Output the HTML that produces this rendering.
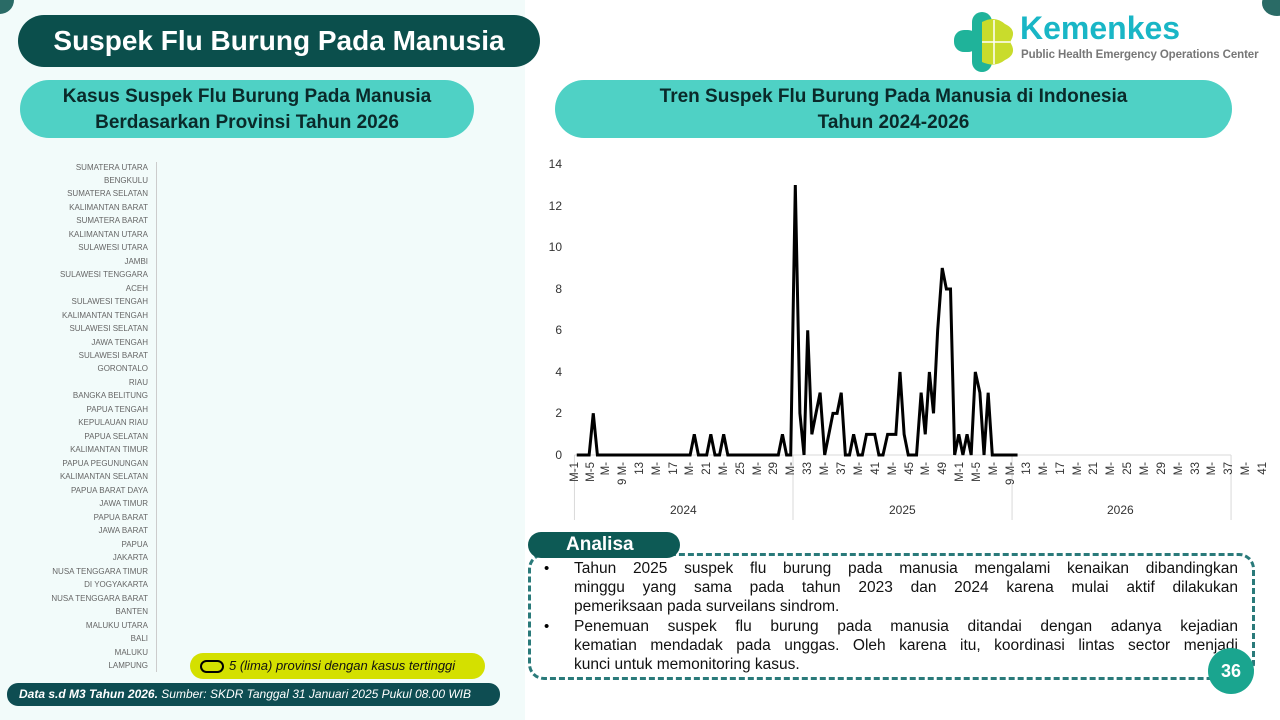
<!DOCTYPE html>
<html><head><meta charset="utf-8"><style>
*{margin:0;padding:0;box-sizing:border-box}
body{width:1280px;height:720px;position:relative;overflow:hidden;background:#fff;font-family:"Liberation Sans",sans-serif}
.a{position:absolute}
.pl{position:absolute;right:1132px;font-size:8px;color:#666;white-space:nowrap;line-height:10px}
.yl{position:absolute;right:718px;font-size:12px;color:#333;line-height:12px}
.xl{position:absolute;top:462px;font-size:11.5px;color:#333;white-space:nowrap;transform-origin:0 0;transform:rotate(-90deg) translateX(-100%);line-height:12px}
.ln{position:absolute;left:574px;width:664px;font-size:15.5px;color:#111;line-height:19.3px;white-space:nowrap;text-align:justify;text-align-last:justify}
.ln.e{text-align-last:left}
.b{position:absolute;left:544px;font-size:15px;line-height:19.3px}
</style></head><body>
<div class="a" style="left:0;top:0;width:525px;height:720px;background:#f2fbfa"></div>
<div class="a" style="left:-14px;top:-14px;width:28px;height:28px;border-radius:50%;background:#2a6b66"></div>
<div class="a" style="left:1262px;top:-10px;width:30px;height:26px;border-radius:50%;background:#2a6b66"></div>

<div class="a" style="left:18px;top:15px;width:522px;height:52px;border-radius:26px;background:#0b4f4c;color:#fff;font-weight:bold;font-size:28px;line-height:52px;text-align:center">Suspek Flu Burung Pada Manusia</div>
<div class="a" style="left:20px;top:80px;width:454px;height:58px;border-radius:29px;background:#4fd1c5;color:#0a2a2a;font-weight:bold;font-size:19px;line-height:26px;text-align:center;padding-top:4px">Kasus Suspek Flu Burung Pada Manusia<br>Berdasarkan Provinsi Tahun 2026</div>
<div class="a" style="left:555px;top:80px;width:677px;height:58px;border-radius:29px;background:#4fd1c5;color:#0a2a2a;font-weight:bold;font-size:19px;line-height:26px;text-align:center;padding-top:4px">Tren Suspek Flu Burung Pada Manusia di Indonesia<br>Tahun 2024-2026</div>

<!-- logo -->
<svg class="a" style="left:950px;top:10px" width="70" height="64" viewBox="0 0 70 64">
<rect x="4" y="20" width="24" height="22" rx="10" fill="#1fb39a"/>
<rect x="22" y="2" width="20" height="60" rx="10" fill="#1fb39a"/>
<path d="M32 12 Q45 5 55 14 Q68 20 60 32 Q68 44 55 50 Q45 58 32 52 Z" fill="#c9dc2c"/>
<line x1="32" y1="32" x2="60" y2="32" stroke="#fff" stroke-width="1.5"/><line x1="44" y1="10" x2="44" y2="54" stroke="#fff" stroke-width="1.5"/>
</svg>
<div class="a" style="left:1020px;top:8px;font-size:32px;font-weight:bold;color:#19b6c6;line-height:40px">Kemenkes</div>
<div class="a" style="left:1021px;top:47px;font-size:11.5px;font-weight:bold;color:#777;line-height:16px;white-space:nowrap;letter-spacing:-0.1px">Public Health Emergency Operations Center</div>

<!-- provinces -->
<div class="a" style="left:156px;top:162px;width:1px;height:510px;background:#ccc"></div>
<div class="pl" style="top:163px">SUMATERA UTARA</div>
<div class="pl" style="top:176px">BENGKULU</div>
<div class="pl" style="top:189px">SUMATERA SELATAN</div>
<div class="pl" style="top:203px">KALIMANTAN BARAT</div>
<div class="pl" style="top:216px">SUMATERA BARAT</div>
<div class="pl" style="top:230px">KALIMANTAN UTARA</div>
<div class="pl" style="top:243px">SULAWESI UTARA</div>
<div class="pl" style="top:257px">JAMBI</div>
<div class="pl" style="top:270px">SULAWESI TENGGARA</div>
<div class="pl" style="top:284px">ACEH</div>
<div class="pl" style="top:297px">SULAWESI TENGAH</div>
<div class="pl" style="top:311px">KALIMANTAN TENGAH</div>
<div class="pl" style="top:324px">SULAWESI SELATAN</div>
<div class="pl" style="top:338px">JAWA TENGAH</div>
<div class="pl" style="top:351px">SULAWESI BARAT</div>
<div class="pl" style="top:364px">GORONTALO</div>
<div class="pl" style="top:378px">RIAU</div>
<div class="pl" style="top:391px">BANGKA BELITUNG</div>
<div class="pl" style="top:405px">PAPUA TENGAH</div>
<div class="pl" style="top:418px">KEPULAUAN RIAU</div>
<div class="pl" style="top:432px">PAPUA SELATAN</div>
<div class="pl" style="top:445px">KALIMANTAN TIMUR</div>
<div class="pl" style="top:459px">PAPUA PEGUNUNGAN</div>
<div class="pl" style="top:472px">KALIMANTAN SELATAN</div>
<div class="pl" style="top:486px">PAPUA BARAT DAYA</div>
<div class="pl" style="top:499px">JAWA TIMUR</div>
<div class="pl" style="top:513px">PAPUA BARAT</div>
<div class="pl" style="top:526px">JAWA BARAT</div>
<div class="pl" style="top:540px">PAPUA</div>
<div class="pl" style="top:553px">JAKARTA</div>
<div class="pl" style="top:567px">NUSA TENGGARA TIMUR</div>
<div class="pl" style="top:580px">DI YOGYAKARTA</div>
<div class="pl" style="top:594px">NUSA TENGGARA BARAT</div>
<div class="pl" style="top:607px">BANTEN</div>
<div class="pl" style="top:621px">MALUKU UTARA</div>
<div class="pl" style="top:634px">BALI</div>
<div class="pl" style="top:648px">MALUKU</div>
<div class="pl" style="top:661px">LAMPUNG</div>

<div class="a" style="left:190px;top:653px;width:295px;height:26px;border-radius:13px;background:#d4e000"></div>
<div class="a" style="left:200px;top:660px;width:24px;height:13px;border:2.5px solid #000;border-radius:7px"></div>
<div class="a" style="left:229px;top:658px;font-size:13px;font-style:italic;color:#111;line-height:16px">5 (lima) provinsi dengan kasus tertinggi</div>
<div class="a" style="left:7px;top:683px;width:493px;height:23px;border-radius:11px;background:#0e4d52;color:#fff;font-size:12px;font-style:italic;line-height:23px;padding-left:12px;white-space:nowrap"><b>Data s.d M3 Tahun 2026.</b> Sumber: SKDR Tanggal 31 Januari 2025 Pukul 08.00 WIB</div>

<!-- chart -->
<div class="yl" style="top:158px">14</div>
<div class="yl" style="top:200px">12</div>
<div class="yl" style="top:241px">10</div>
<div class="yl" style="top:283px">8</div>
<div class="yl" style="top:324px">6</div>
<div class="yl" style="top:366px">4</div>
<div class="yl" style="top:407px">2</div>
<div class="yl" style="top:449px">0</div>
<svg class="a" style="left:540px;top:150px" width="720" height="380" viewBox="0 0 1568 1140" preserveAspectRatio="none">
<g stroke="#d9d9d9" fill="none">
<line x1="75" y1="915" x2="1505" y2="915" vector-effect="non-scaling-stroke"/>
<line x1="75" y1="915" x2="75" y2="1110" vector-effect="non-scaling-stroke"/>
<line x1="551" y1="915" x2="551" y2="1110" vector-effect="non-scaling-stroke"/>
<line x1="1028" y1="915" x2="1028" y2="1110" vector-effect="non-scaling-stroke"/>
<line x1="1505" y1="915" x2="1505" y2="1110" vector-effect="non-scaling-stroke"/>
</g>
<polyline fill="none" stroke="#000" stroke-width="3" stroke-linejoin="miter" vector-effect="non-scaling-stroke" points="80,915 107,915 116,790 125,915 327,915 336,853 345,915 363,915 372,853 381,915 391,915 400,853 409,915 519,915 528,853 537,915 546,915 556,105 566,790 575,915 583,541 592,853 601,790 610,728 620,915 629,853 638,790 647,790 656,728 665,915 674,915 683,853 693,915 702,915 711,853 720,853 729,853 738,915 747,915 757,853 766,853 775,853 784,666 793,853 802,915 811,915 820,915 830,728 839,853 848,666 857,790 866,541 876,354 885,417 894,417 903,915 912,853 921,915 930,853 939,915 948,666 958,728 967,915 976,728 985,915 1040,915"/>
</svg>
<div class="xl" style="left:569px">M-1</div>
<div class="xl" style="left:585px">M-5</div>
<div class="xl" style="left:600px">M-</div>
<div class="xl" style="left:617px">9 M-</div>
<div class="xl" style="left:634px">13</div>
<div class="xl" style="left:651px">M-</div>
<div class="xl" style="left:668px">17</div>
<div class="xl" style="left:684px">M-</div>
<div class="xl" style="left:701px">21</div>
<div class="xl" style="left:718px">M-</div>
<div class="xl" style="left:735px">25</div>
<div class="xl" style="left:752px">M-</div>
<div class="xl" style="left:768px">29</div>
<div class="xl" style="left:785px">M-</div>
<div class="xl" style="left:802px">33</div>
<div class="xl" style="left:819px">M-</div>
<div class="xl" style="left:836px">37</div>
<div class="xl" style="left:853px">M-</div>
<div class="xl" style="left:870px">41</div>
<div class="xl" style="left:887px">M-</div>
<div class="xl" style="left:904px">45</div>
<div class="xl" style="left:920px">M-</div>
<div class="xl" style="left:937px">49</div>
<div class="xl" style="left:954px">M-1</div>
<div class="xl" style="left:971px">M-5</div>
<div class="xl" style="left:988px">M-</div>
<div class="xl" style="left:1005px">9 M-</div>
<div class="xl" style="left:1021px">13</div>
<div class="xl" style="left:1038px">M-</div>
<div class="xl" style="left:1055px">17</div>
<div class="xl" style="left:1072px">M-</div>
<div class="xl" style="left:1088px">21</div>
<div class="xl" style="left:1105px">M-</div>
<div class="xl" style="left:1122px">25</div>
<div class="xl" style="left:1139px">M-</div>
<div class="xl" style="left:1156px">29</div>
<div class="xl" style="left:1173px">M-</div>
<div class="xl" style="left:1190px">33</div>
<div class="xl" style="left:1206px">M-</div>
<div class="xl" style="left:1223px">37</div>
<div class="xl" style="left:1240px">M-</div>
<div class="xl" style="left:1257px">41</div>
<div class="a" style="left:670px;top:503px;font-size:12px;color:#333">2024</div>
<div class="a" style="left:889px;top:503px;font-size:12px;color:#333">2025</div>
<div class="a" style="left:1107px;top:503px;font-size:12px;color:#333">2026</div>

<!-- analisa -->
<div class="a" style="left:528px;top:553px;width:727px;height:127px;border:3px dashed #2a7a7a;border-radius:16px"></div>
<div class="a" style="left:528px;top:532px;width:152px;height:26px;border-radius:13px;background:#0d5a55;color:#fff;font-weight:bold;font-size:19px;line-height:26px;padding-left:38px">Analisa</div>
<div class="b" style="top:559px">•</div>
<div class="ln" style="top:559px">Tahun 2025 suspek flu burung pada manusia mengalami kenaikan dibandingkan</div>
<div class="ln" style="top:578px">minggu yang sama pada tahun 2023 dan 2024 karena mulai aktif dilakukan</div>
<div class="ln e" style="top:597px">pemeriksaan pada surveilans sindrom.</div>
<div class="b" style="top:617px">•</div>
<div class="ln" style="top:617px">Penemuan suspek flu burung pada manusia ditandai dengan adanya kejadian</div>
<div class="ln" style="top:636px">kematian mendadak pada unggas. Oleh karena itu, koordinasi lintas sector menjadi</div>
<div class="ln e" style="top:655px">kunci untuk memonitoring kasus.</div>
<div class="a" style="left:1208px;top:648px;width:46px;height:46px;border-radius:50%;background:#1aa58f;color:#fff;font-weight:bold;font-size:18px;line-height:46px;text-align:center">36</div>
</body></html>
